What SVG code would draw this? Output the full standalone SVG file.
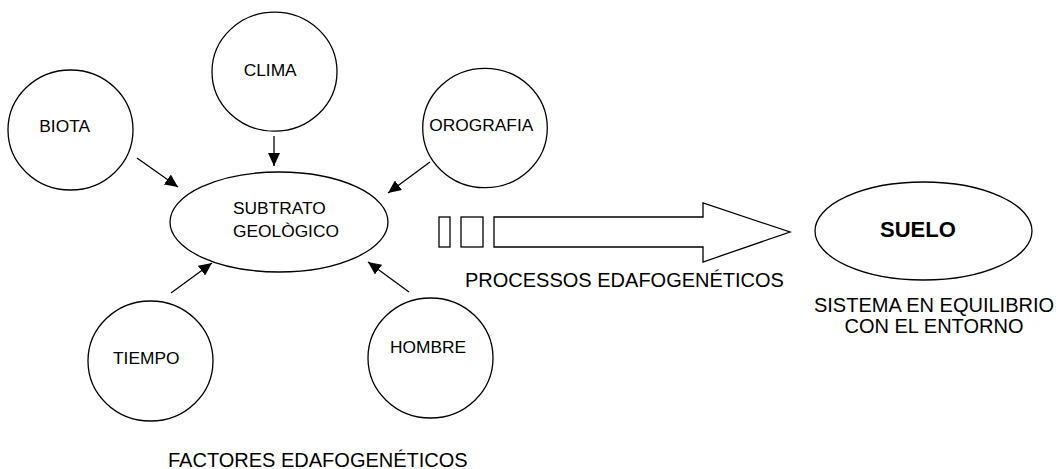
<svg xmlns="http://www.w3.org/2000/svg" width="1058" height="469" viewBox="0 0 1058 469">
<style>
.n{fill:#fff;stroke:#000;stroke-width:1.3}
.t{font-family:"Liberation Sans",Arial,sans-serif;font-size:17.33px;fill:#000}
.l{font-family:"Liberation Sans",Arial,sans-serif;font-size:20px;fill:#000}
.c{stroke:#000;stroke-width:1.3;fill:none;marker-end:url(#ah)}
</style>
<defs>
<marker id="ah" markerUnits="userSpaceOnUse" markerWidth="14" markerHeight="12" refX="13" refY="6" orient="auto">
<path d="M0,0 L13,6 L0,12 z" fill="#000"/>
</marker>
</defs>
<rect width="1058" height="469" fill="#fff"/>
<g id="connectors">
<line class="c" x1="137" y1="158" x2="178" y2="187"/>
<line class="c" x1="274" y1="136" x2="274" y2="166"/>
<line class="c" x1="430" y1="162" x2="388" y2="193"/>
<line class="c" x1="171" y1="293" x2="212" y2="263"/>
<line class="c" x1="409" y1="292" x2="368" y2="262"/>
</g>
<g id="biota"><ellipse class="n" cx="70.5" cy="130" rx="62.5" ry="60"/><text class="t" x="39.3" y="132.3">BIOTA</text></g>
<g id="clima"><ellipse class="n" cx="274.5" cy="71.7" rx="62.5" ry="59.5"/><text class="t" x="243.7" y="76">CLIMA</text></g>
<g id="orografia"><ellipse class="n" cx="485" cy="128" rx="62.3" ry="59.7"/><text class="t" x="429.3" y="131">OROGRAFIA</text></g>
<g id="subtrato"><ellipse class="n" cx="279" cy="222" rx="109" ry="50"/><text class="t" x="233" y="214">SUBTRATO</text><text class="t" x="233" y="236.7">GEOLÒGICO</text></g>
<g id="tiempo"><ellipse class="n" cx="150.5" cy="361" rx="62.5" ry="60"/><text class="t" x="113" y="364">TIEMPO</text></g>
<g id="hombre"><ellipse class="n" cx="430.5" cy="358" rx="62.5" ry="60"/><text class="t" x="390" y="353">HOMBRE</text></g>
<g id="procesos">
<rect class="n" x="439" y="217" width="11" height="30"/>
<rect class="n" x="461" y="217" width="22" height="30"/>
<polygon class="n" points="494,217 703,217 703,203 790,232 703,262 703,247 494,247"/>
<text class="l" x="465" y="286.7">PROCESSOS EDAFOGENÉTICOS</text>
</g>
<g id="suelo"><ellipse class="n" cx="923.5" cy="231" rx="108.5" ry="49"/><text x="880" y="237.3" style="font-family:'Liberation Sans',Arial,sans-serif;font-size:22px;font-weight:bold">SUELO</text>
<text class="l" x="934" y="311.7" text-anchor="middle">SISTEMA EN EQUILIBRIO</text>
<text class="l" x="934" y="332.5" text-anchor="middle">CON EL ENTORNO</text></g>
<text class="l" x="168" y="467">FACTORES EDAFOGENÉTICOS</text>
</svg>
